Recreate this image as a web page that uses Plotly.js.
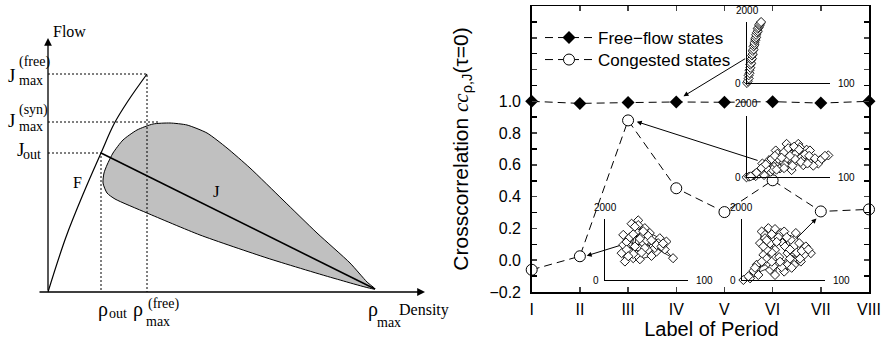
<!DOCTYPE html>
<html><head><meta charset="utf-8">
<script src="https://cdn.plot.ly/plotly-3.0.1.min.js"></script>
<style>html,body{margin:0;padding:0;background:#fff;}#chart{width:883px;height:344px;}</style>
</head><body><div id="chart"></div>
<script>
// ---------- right panel: cross-correlation by period ----------
const periods = ['I','II','III','IV','V','VI','VII','VIII'];
const freeFlow = [1.0, 0.987, 0.992, 0.996, 0.994, 0.998, 0.989, 1.0];
const congested = [-0.06, 0.025, 0.88, 0.453, 0.303, 0.503, 0.307, 0.32];
const yTickVals = [-0.2, 0, 0.2, 0.4, 0.6, 0.8, 1.0, 1.2, 1.4, 1.6];
const yTickText = ['\u22120.2','0.0','0.2','0.4','0.6','0.8','1.0','','',''];

// inset flow-density scatters (density 0-100, flow 0-2000)
const insetFreeRho = [0,1,2,2,3,3,4,4,5,5,6,6,7,7,8,8,9,9,10,10,11,11,12,13,13,14,15,15,16,17];
const insetFreeJ = [0,60,150,250,320,420,500,600,650,760,800,900,950,1050,1100,1200,1250,1320,1400,1450,1500,1580,1650,1700,1780,1820,1880,1920,1960,2000];
const insetIIIRho = [0,3,8,11,15,21,19,25,29,33,27,35,37,40,44,48,42,48,54,56,52,62,60,66,68,72,76,78,70,84,88,92,98,86,80,74,64,58,50,46,38,31,24,16,10,5,
  12,18,23,30,34,45,50,57,63,70,75,82,90,94,36,45,55,65,73,58,52,42];
const insetIIIJ = [0,20,60,40,120,74,450,470,180,340,560,875,770,290,500,1090,700,610,235,450,820,1090,700,660,395,900,875,555,620,500,555,640,715,450,380,520,980,760,830,400,600,250,300,200,100,30,
  150,300,420,600,700,820,950,1000,900,750,700,620,600,700,250,300,380,500,450,600,700,640];
const insetIIRho = [22,28,22,20,24,34,42,56,62,74,66,54,48,38,36,46,58,82,72,30,52,64,44,32,40,50,60,26,38,
  26,30,34,42,48,52,56,62,68,70,44,34,28,40,46,36];
const insetIIJ = [1480,1320,1150,880,605,715,680,790,930,1260,1370,1540,1700,1590,1100,1210,1100,715,1000,930,990,1210,1430,1845,1955,1300,1050,1250,820,
  1000,1400,1500,1350,1050,1450,1300,1150,1100,1200,900,850,780,1800,1600,1750];
const insetVIIRho = [2,10,20,26,22,24,28,32,28,40,40,47,49,51,55,59,65,69,61,77,83,75,71,63,51,43,40,34,32,14,18,30,36,45,55,60,48,38,
  8,16,24,30,34,36,44,52,58,66,72,80,70,58,46,36,26,30,42,54];
const insetVIIJ = [0,55,165,825,1210,1590,1480,1700,1370,990,1670,1540,1210,1590,880,1320,1540,1210,660,1100,880,825,605,495,275,550,165,330,550,300,500,700,900,750,500,400,420,450,
  120,400,600,1000,1200,1500,1400,1100,1000,900,950,1000,700,700,600,600,1100,1300,1250,1400];

// ---------- left panel: schematic fundamental diagram (arbitrary units) ----------
const rhoOut = 53, jOut = 139, rhoFree = 99, jFree = 218, jSyn = 170, rhoMax = 327;
const fCurveRho = [0, 18, 36, 53, 66, 80, 99];
const fCurveJ = [0, 55, 100, 139, 168, 191, 218];
const synRho = [55,56,59,65,75,89,105,122,139,159,179,202,235,269,302,319,327,285,219,152,99,67,59,55];
const synJ = [109,119,127,139,152,162,168,169,167,159,144,124,92,59,29,10,3,14,34,57,79,93,99,109];
const jLineRho = [rhoOut, rhoMax];
const jLineJ = [jOut, 3];

const SANS = 'Liberation Sans, Arial, sans-serif';
const SERIF = 'Liberation Serif, Times New Roman, serif';
const insetMarker = {symbol:'diamond', size:7, color:'white', line:{color:'black', width:0.9}};
const insetLine = {color:'black', width:0.8};

const traces = [
  // left schematic
  {x: synRho, y: synJ, xaxis:'x2', yaxis:'y2', mode:'lines', fill:'toself', fillcolor:'#c0c0c0',
   line:{color:'black', width:1, shape:'spline', smoothing:0.6}, hoverinfo:'skip', showlegend:false},
  {x: fCurveRho, y: fCurveJ, xaxis:'x2', yaxis:'y2', mode:'lines', line:{color:'black', width:1.2, shape:'spline'}, showlegend:false},
  {x: jLineRho, y: jLineJ, xaxis:'x2', yaxis:'y2', mode:'lines', line:{color:'black', width:1.6}, showlegend:false},
  {x: [0, rhoFree, rhoFree], y: [jFree, jFree, 0], xaxis:'x2', yaxis:'y2', mode:'lines', line:{color:'black', width:1, dash:'2px,2px'}, showlegend:false},
  {x: [0, 112], y: [jSyn, jSyn], xaxis:'x2', yaxis:'y2', mode:'lines', line:{color:'black', width:1, dash:'2px,2px'}, showlegend:false},
  {x: [0, rhoOut, rhoOut], y: [jOut, jOut, 0], xaxis:'x2', yaxis:'y2', mode:'lines', line:{color:'black', width:1, dash:'2px,2px'}, showlegend:false},
  // right main chart
  {x: periods, y: freeFlow, name:'Free\u2212flow states', mode:'lines+markers', cliponaxis:false, legend:'legend',
   line:{color:'black', width:1, dash:'8px,5px'}, marker:{symbol:'diamond', size:10, color:'black'}},
  {x: periods, y: congested, name:'Congested states', mode:'lines+markers', cliponaxis:false, legend:'legend2',
   line:{color:'black', width:1, dash:'8px,5px'}, marker:{symbol:'circle', size:11, color:'white', line:{color:'black', width:1}}},
  // insets
  {x: insetFreeRho, y: insetFreeJ, xaxis:'x3', yaxis:'y3', mode:'lines+markers', cliponaxis:false, line:insetLine, marker:insetMarker, showlegend:false},
  {x: insetIIIRho, y: insetIIIJ, xaxis:'x4', yaxis:'y4', mode:'lines+markers', cliponaxis:false, line:insetLine, marker:insetMarker, showlegend:false},
  {x: insetIIRho, y: insetIIJ, xaxis:'x5', yaxis:'y5', mode:'lines+markers', cliponaxis:false, line:insetLine, marker:insetMarker, showlegend:false},
  {x: insetVIIRho, y: insetVIIJ, xaxis:'x6', yaxis:'y6', mode:'lines+markers', cliponaxis:false, line:insetLine, marker:insetMarker, showlegend:false}
];

function insetAxes(n, xd, yd){
  const base = {showline:true, linecolor:'black', linewidth:1, ticks:'', showticklabels:false, showgrid:false, zeroline:false, fixedrange:true};
  return [Object.assign({}, base, {domain:xd, range:[0,100], anchor:'y'+n}),
          Object.assign({}, base, {domain:yd, range:[0,2000], anchor:'x'+n})];
}
const W = 883, H = 344;
const px = v => v / W, py = v => 1 - v / H;
const [x3, y3] = insetAxes(3, [px(747), px(830)], [py(83), py(22)]);
const [x4, y4] = insetAxes(4, [px(746.5), px(830)], [py(177.3), py(116)]);
const [x5, y5] = insetAxes(5, [px(605), px(688)], [py(280), py(219)]);
const [x6, y6] = insetAxes(6, [px(741.7), px(825)], [py(280), py(219)]);

const annotations = [];
function insetLabels(n){
  const f = {family:SANS, size:10, color:'black'};
  annotations.push({xref:'x'+n, yref:'y'+n, x:0, y:2000, text:'2000', showarrow:false, font:f, yshift:12});
  annotations.push({xref:'x'+n, yref:'y'+n, x:0, y:0, text:'0', showarrow:false, font:f, xanchor:'right', xshift:-4});
  annotations.push({xref:'x'+n, yref:'y'+n, x:100, y:0, text:'100', showarrow:false, font:f, xanchor:'left', xshift:6});
}
[3,4,5,6].forEach(insetLabels);

// arrows from insets to the data points
const arrow = (x, y, ax, ay) => ({xref:'x', yref:'y', axref:'x', ayref:'y', x:x, y:y, ax:ax, ay:ay, text:'',
  showarrow:true, arrowhead:2, arrowsize:1, arrowwidth:1, arrowcolor:'black', standoff:0});
annotations.push(arrow(3.15, 1.032, 4.46, 1.274));
annotations.push(arrow(2.18, 0.872, 4.72, 0.625));
annotations.push(arrow(1.141, 0.028, 1.853, 0.095));
annotations.push(arrow(5.91, 0.263, 5.46, 0.126));

// left panel axes arrows
const axArrow = (x, y, ax, ay) => ({xref:'x2', yref:'y2', axref:'x2', ayref:'y2', x:x, y:y, ax:ax, ay:ay, text:'',
  showarrow:true, arrowhead:2, arrowsize:1.2, arrowwidth:1.3, arrowcolor:'black', standoff:0});
annotations.push(axArrow(0, 254, 0, 0));
annotations.push(axArrow(377, 0, -10, 0));

// left panel labels
function lbl(x, y, t, size, anchor){
  annotations.push({xref:'x2', yref:'y2', x:x, y:y, text:t, showarrow:false, xanchor:anchor||'center', yanchor:'middle',
    borderpad:0, font:{family:SERIF, size:size, color:'black'}});
}
lbl(21, 261, 'Flow', 16);
lbl(376, -18, 'Density', 16);
lbl(-36.3, 217, 'J', 19); lbl(-13.7, 230.3, '(free)', 14); lbl(-17, 212, 'max', 14);
lbl(-36.3, 172, 'J', 19); lbl(-14.7, 182, '(syn)', 14); lbl(-17, 166, 'max', 14);
lbl(-28, 143, 'J', 19); lbl(-15.7, 138, 'out', 14);
lbl(29.3, 109.3, 'F', 16);
lbl(168.7, 100.3, 'J', 17);
lbl(54.5, -17, '\u03c1', 20); lbl(70, -21.5, 'out', 14);
lbl(89.5, -17, '\u03c1', 20); lbl(115.5, -12, '(free)', 14); lbl(109.5, -29.5, 'max', 14);
lbl(324.5, -17, '\u03c1', 20); lbl(341, -30, 'max', 14);

const legendBase = {x:px(540), xanchor:'left', yanchor:'top', bgcolor:'rgba(0,0,0,0)', font:{family:SANS, size:17}, itemwidth:48};
const layout = {
  width: W, height: H, margin:{l:0, r:0, t:0, b:0},
  paper_bgcolor:'white', plot_bgcolor:'rgba(0,0,0,0)',
  font:{family:SANS, color:'black'},
  showlegend:true,
  legend:Object.assign({}, legendBase, {y:py(20)}),
  legend2:Object.assign({}, legendBase, {y:py(42)}),
  xaxis:{domain:[px(531.7), px(869)], type:'category', range:[0,7], tickmode:'array', tickvals:periods, ticktext:periods,
    ticks:'inside', ticklen:5, tickwidth:1.5, showline:true, linewidth:1.5, linecolor:'black', mirror:'ticks',
    showgrid:false, zeroline:false, tickfont:{family:SANS, size:16}, ticklabelstandoff:2,
    title:{text:'&nbsp;&nbsp;&nbsp;&nbsp;Label of Period', font:{family:SANS, size:20}, standoff:4}, anchor:'y'},
  yaxis:{domain:[py(292), py(6)], range:[-0.2, 1.6], tickmode:'array', tickvals:yTickVals, ticktext:yTickText,
    ticks:'inside', ticklen:5, tickwidth:1.5, showline:true, linewidth:1.5, linecolor:'black', mirror:'ticks',
    minor:{dtick:0.1, tick0:0, ticks:'inside', ticklen:5, tickwidth:1.5, tickcolor:'black'},
    showgrid:false, zeroline:false, tickfont:{family:SANS, size:16}, ticklabelstandoff:6,
    title:{text:'Crosscorrelation <span style="font-family:Liberation Serif"><i>cc</i></span><sub>\u03c1,J</sub>(\u03c4=0)', font:{family:SANS, size:21}, standoff:15}, anchor:'x'},
  xaxis2:{domain:[0, 450/W], range:[-48, 402], visible:false, fixedrange:true, anchor:'y2'},
  yaxis2:{domain:[0, 1], range:[-52, 292], visible:false, fixedrange:true, anchor:'x2'},
  xaxis3:x3, yaxis3:y3, xaxis4:x4, yaxis4:y4, xaxis5:x5, yaxis5:y5, xaxis6:x6, yaxis6:y6,
  annotations: annotations
};
Plotly.newPlot('chart', traces, layout, {displayModeBar:false, staticPlot:true});
</script></body></html>
